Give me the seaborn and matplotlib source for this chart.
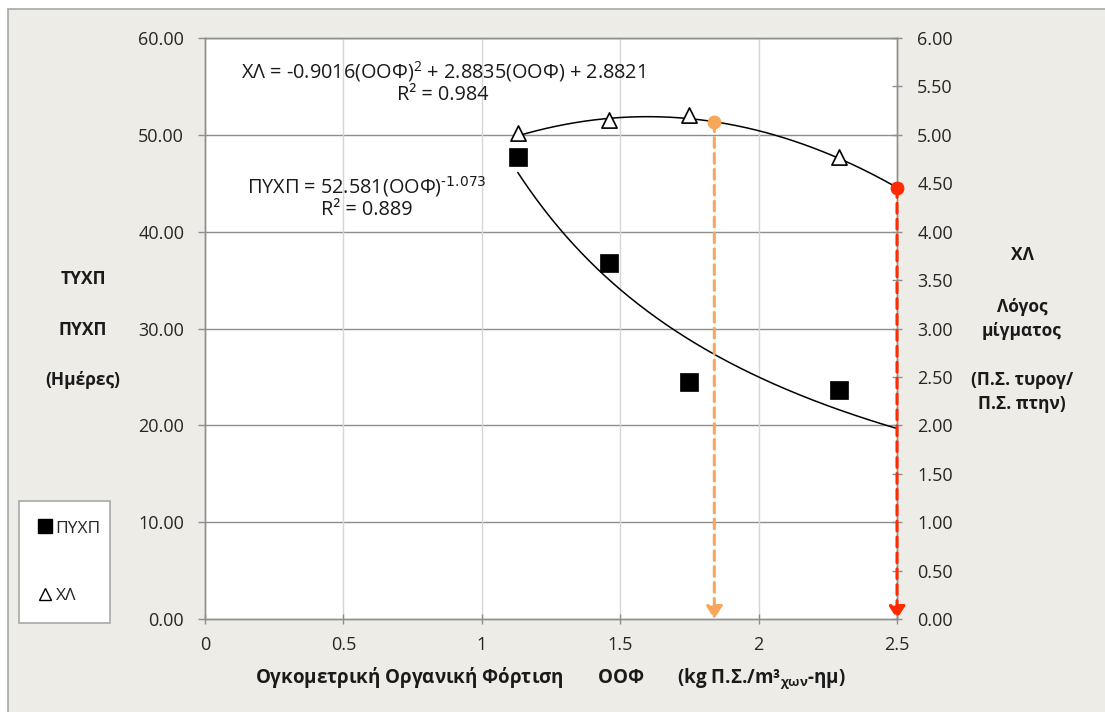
import numpy as np
import pandas as pd
import seaborn as sns
import matplotlib.pyplot as plt
from matplotlib.lines import Line2D
from matplotlib.patches import Rectangle

# Measured points: volumetric organic load vs. retention time and mixing ratio
oof = [1.13, 1.46, 1.75, 2.29]
pyxp = [47.7, 36.8, 24.5, 23.7]
xl = [5.02, 5.15, 5.20, 4.77]

# Trendline coefficients (as printed on the chart)
xl_quad = [-0.9016, 2.8835, 2.8821]
xl_r2 = 0.984
pyxp_pow = [52.581, -1.073]
pyxp_r2 = 0.889

# Loads marked on the mixing-ratio curve
oof_marks = [1.84, 2.5]
mark_colors = ["#F7A65A", "#FF2A00"]

x_ticks = [0, 0.5, 1, 1.5, 2, 2.5]
x_ticklabels = ["0", "0.5", "1", "1.5", "2", "2.5"]
left_ticks = [0, 10, 20, 30, 40, 50, 60]
right_ticks = [0, 0.5, 1, 1.5, 2, 2.5, 3, 3.5, 4, 4.5, 5, 5.5, 6]

sns.set_style("white")
plt.rcParams["font.family"] = ["Open Sans", "DejaVu Sans"]
plt.rcParams["mathtext.default"] = "regular"

W, H = 1105, 712
fig = plt.figure(figsize=(W / 100, H / 100), dpi=100, facecolor="white")
fig.add_artist(Rectangle((8 / W, -0.01), 1.02, (H - 9) / H + 0.01,
                         transform=fig.transFigure, facecolor="#EDECE6",
                         edgecolor="#A8A8A8", lw=1.2, zorder=-10))

ax = fig.add_axes([205 / W, 1 - 619 / H, 692 / W, 581 / H])
ax.set_facecolor("white")
ax2 = ax.twinx()

tick_color = "#262626"
text_color = "#1a1a1a"
grid_dark = "#8E8E8E"
grid_light = "#D6D6D6"

# Gridlines: horizontal major (left scale), vertical light
for y in left_ticks[1:]:
    ax.axhline(y, color=grid_dark, lw=1.0, zorder=0)
for x in x_ticks[1:-1]:
    ax.axvline(x, color=grid_light, lw=1.0, zorder=0)

# Trendlines
xs = np.linspace(oof[0], 2.5, 200)
pyxp_fit = pyxp_pow[0] * xs ** pyxp_pow[1]
xl_fit = np.polyval(xl_quad, xs)
sns.lineplot(x=xs, y=pyxp_fit, ax=ax, color="black", lw=1.1, zorder=2)
sns.lineplot(x=xs, y=xl_fit, ax=ax2, color="black", lw=1.1, zorder=2)

# Data points
sns.scatterplot(x=oof, y=pyxp, ax=ax, marker="s", s=150, color="black",
                edgecolor="black", linewidth=0.5, zorder=3)
sns.scatterplot(x=oof, y=xl, ax=ax2, marker="^", s=120, color="white",
                edgecolor="black", linewidth=1.2, zorder=3)

# Marked loads: dashed drop lines with arrowheads
xl_marks = np.polyval(xl_quad, np.array(oof_marks))
for xm, ym, c in zip(oof_marks, xl_marks, mark_colors):
    ax2.annotate("", xy=(xm, 0), xytext=(xm, ym),
                 arrowprops=dict(arrowstyle="-|>,head_length=0.38,head_width=0.24",
                                 color=c, lw=2.2, linestyle=(0, (3.2, 2.0)),
                                 shrinkA=0, shrinkB=0, mutation_scale=20),
                 zorder=4, annotation_clip=False)
    sns.scatterplot(x=[xm], y=[ym], ax=ax2, s=85, color=c, edgecolor=c,
                    zorder=5, clip_on=False)

# Axes limits, ticks
ax.set_xlim(0, 2.5)
ax.set_ylim(0, 60)
ax2.set_ylim(0, 6)
ax.set_xticks(x_ticks)
ax.set_xticklabels(x_ticklabels)
ax.set_yticks(left_ticks)
ax.set_yticklabels([f"{v:.2f}" for v in left_ticks])
ax2.set_yticks(right_ticks)
ax2.set_yticklabels([f"{v:.2f}" for v in right_ticks])

ax.tick_params(axis="y", direction="out", length=5, width=1, color=grid_dark,
               labelsize=13, labelcolor=tick_color, pad=10, left=True)
ax.tick_params(axis="x", direction="inout", length=7, width=1, color=grid_dark,
               labelsize=13, labelcolor=tick_color, pad=9, bottom=True)
ax2.tick_params(axis="y", direction="inout", length=7, width=1, color=grid_dark,
                labelsize=13, labelcolor=tick_color, pad=11, right=True)

for a in (ax, ax2):
    for s in a.spines.values():
        s.set_color(grid_dark)
        s.set_linewidth(1.0)
ax.set_xlabel("")
ax.set_ylabel("")
ax2.set_ylabel("")

# Axis titles
fig.text(550 / W, 1 - 678 / H,
         "Ογκομετρική Οργανική Φόρτιση       ΟΟΦ       (kg Π.Σ./m³$_{χων}$-ημ)",
         ha="center", va="center", fontsize=13.5, fontweight="bold", color=text_color)
for txt, yp in [("ΤΥΧΠ", 279), ("ΠΥΧΠ", 330), ("(Ημέρες)", 380)]:
    fig.text(83 / W, 1 - yp / H, txt, ha="center", va="center", fontsize=12.5,
             fontweight="bold", color=text_color)
for txt, yp in [("ΧΛ", 255), ("Λόγος", 307), ("μίγματος", 331),
                ("(Π.Σ. τυρογ/", 380), ("Π.Σ. πτην)", 404)]:
    fig.text(1022 / W, 1 - yp / H, txt, ha="center", va="center", fontsize=12.5,
             fontweight="bold", color=text_color)

# Trendline equations
a2, a1, a0 = xl_quad
fig.text(443 / W, 1 - 72 / H,
         f"ΧΛ = {a2:.4f}(ΟΟΦ)$^{{2}}$ + {a1:.4f}(ΟΟΦ) + {a0:.4f}",
         ha="center", va="center", fontsize=14.3, color=text_color)
fig.text(443 / W, 1 - 95 / H, f"R² = {xl_r2:.3f}",
         ha="center", va="center", fontsize=14.3, color=text_color)
fig.text(367 / W, 1 - 187 / H,
         f"ΠΥΧΠ = {pyxp_pow[0]:.3f}(ΟΟΦ)$^{{\\text{{{pyxp_pow[1]:.3f}}}}}$",
         ha="center", va="center", fontsize=14.3, color=text_color)
fig.text(367 / W, 1 - 210 / H, f"R² = {pyxp_r2:.3f}",
         ha="center", va="center", fontsize=14.3, color=text_color)

# Legend
handles = [
    Line2D([], [], marker="s", color="black", linestyle="none", markersize=10),
    Line2D([], [], marker="^", markerfacecolor="white", markeredgecolor="black",
           markeredgewidth=1.0, linestyle="none", markersize=9),
]
leg = fig.legend(handles, ["ΠΥΧΠ", "ΧΛ"], loc="upper left",
                 bbox_to_anchor=(19 / W, 1 - 502 / H, 91 / W, 0.001), mode="expand",
                 fontsize=12.5, frameon=True, fancybox=False, framealpha=1,
                 edgecolor="#A8A8A8", borderpad=1.1, labelspacing=2.95,
                 handlelength=0.8, handletextpad=0.2, borderaxespad=0)
leg.get_frame().set_linewidth(1.2)

fig.savefig("out.png", dpi=100, facecolor=fig.get_facecolor())
